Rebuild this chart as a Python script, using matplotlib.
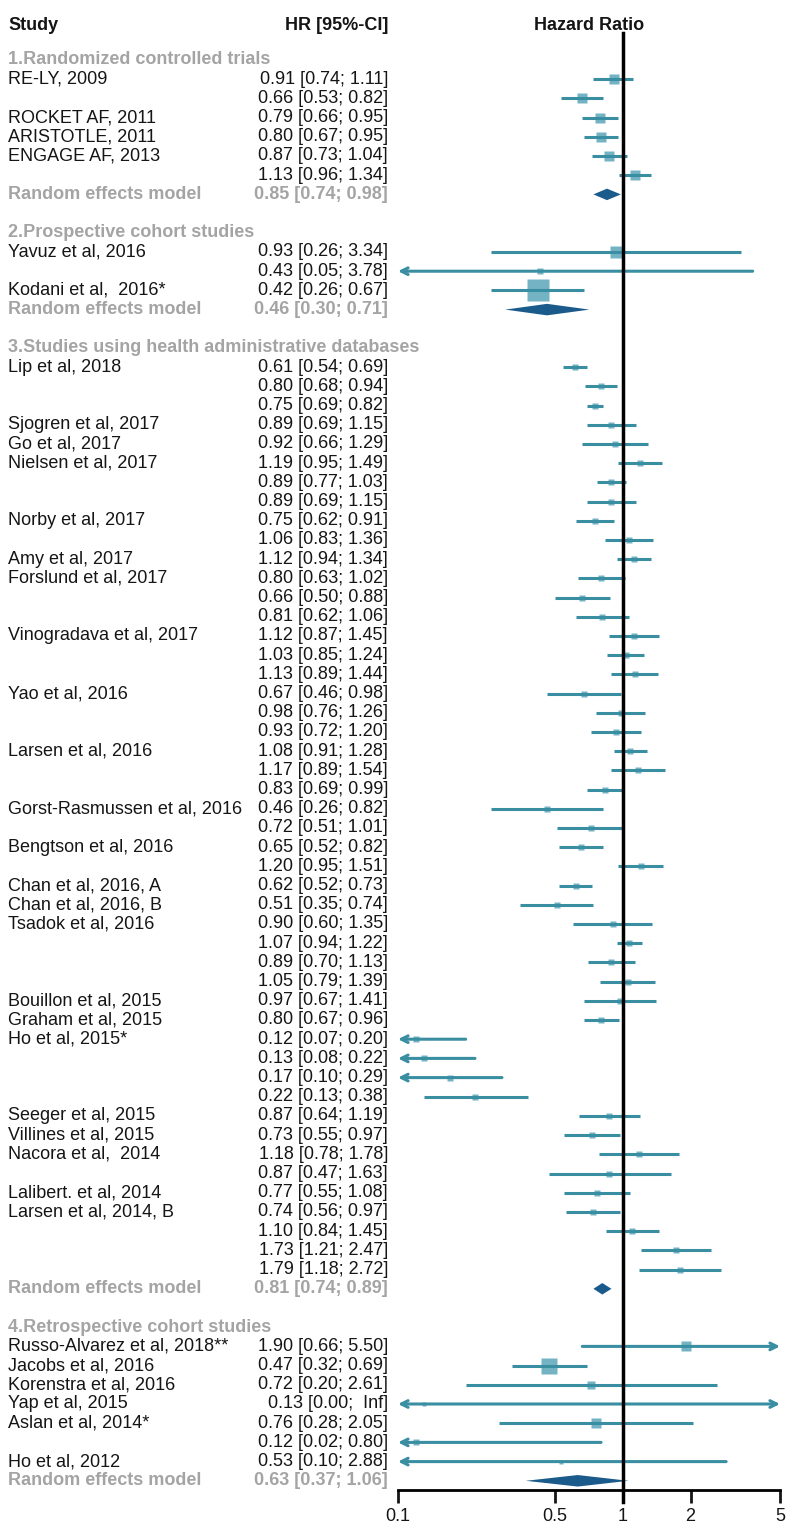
import numpy as np
import matplotlib
matplotlib.use('Agg')
import matplotlib.pyplot as plt
from matplotlib.transforms import blended_transform_factory

plt.rcParams['font.family'] = ['Liberation Sans', 'DejaVu Sans']

# ---- datos ----
s1_title = '1.Randomized controlled trials'
s1_labels = ['RE-LY, 2009', '', 'ROCKET AF, 2011', 'ARISTOTLE, 2011', 'ENGAGE AF, 2013', '']
s1_hr = [0.91, 0.66, 0.79, 0.80, 0.87, 1.13]
s1_lo = [0.74, 0.53, 0.66, 0.67, 0.73, 0.96]
s1_hi = [1.11, 0.82, 0.95, 0.95, 1.04, 1.34]
s1_w = [9, 9, 8, 8, 8, 8]
s1_re = [0.85, 0.74, 0.98]

s2_title = '2.Prospective cohort studies'
s2_labels = ['Yavuz et al, 2016', '', 'Kodani et al,  2016*']
s2_hr = [0.93, 0.43, 0.42]
s2_lo = [0.26, 0.05, 0.26]
s2_hi = [3.34, 3.78, 0.67]
s2_w = [10, 5, 18]
s2_re = [0.46, 0.30, 0.71]

s3_title = '3.Studies using health administrative databases'
s3_labels = ['Lip et al, 2018', '', '', 'Sjogren et al, 2017', 'Go et al, 2017',
             'Nielsen et al, 2017', '', '', 'Norby et al, 2017', '', 'Amy et al, 2017',
             'Forslund et al, 2017', '', '', 'Vinogradava et al, 2017', '', '',
             'Yao et al, 2016', '', '', 'Larsen et al, 2016', '', '',
             'Gorst-Rasmussen et al, 2016', '', 'Bengtson et al, 2016', '',
             'Chan et al, 2016, A', 'Chan et al, 2016, B', 'Tsadok et al, 2016', '', '', '',
             'Bouillon et al, 2015', 'Graham et al, 2015', 'Ho et al, 2015*', '', '', '',
             'Seeger et al, 2015', 'Villines et al, 2015', 'Nacora et al,  2014', '',
             'Lalibert. et al, 2014', 'Larsen et al, 2014, B', '', '', '']
s3_hr = [0.61, 0.80, 0.75, 0.89, 0.92, 1.19, 0.89, 0.89, 0.75, 1.06, 1.12,
         0.80, 0.66, 0.81, 1.12, 1.03, 1.13, 0.67, 0.98, 0.93, 1.08, 1.17, 0.83,
         0.46, 0.72, 0.65, 1.20, 0.62, 0.51, 0.90, 1.07, 0.89, 1.05, 0.97, 0.80,
         0.12, 0.13, 0.17, 0.22, 0.87, 0.73, 1.18, 0.87, 0.77, 0.74, 1.10, 1.73, 1.79]
s3_lo = [0.54, 0.68, 0.69, 0.69, 0.66, 0.95, 0.77, 0.69, 0.62, 0.83, 0.94,
         0.63, 0.50, 0.62, 0.87, 0.85, 0.89, 0.46, 0.76, 0.72, 0.91, 0.89, 0.69,
         0.26, 0.51, 0.52, 0.95, 0.52, 0.35, 0.60, 0.94, 0.70, 0.79, 0.67, 0.67,
         0.07, 0.08, 0.10, 0.13, 0.64, 0.55, 0.78, 0.47, 0.55, 0.56, 0.84, 1.21, 1.18]
s3_hi = [0.69, 0.94, 0.82, 1.15, 1.29, 1.49, 1.03, 1.15, 0.91, 1.36, 1.34,
         1.02, 0.88, 1.06, 1.45, 1.24, 1.44, 0.98, 1.26, 1.20, 1.28, 1.54, 0.99,
         0.82, 1.01, 0.82, 1.51, 0.73, 0.74, 1.35, 1.22, 1.13, 1.39, 1.41, 0.96,
         0.20, 0.22, 0.29, 0.38, 1.19, 0.97, 1.78, 1.63, 1.08, 0.97, 1.45, 2.47, 2.72]
s3_w = [5] * 48
s3_re = [0.81, 0.74, 0.89]

s4_title = '4.Retrospective cohort studies'
s4_labels = ['Russo-Alvarez et al, 2018**', 'Jacobs et al, 2016', 'Korenstra et al, 2016',
             'Yap et al, 2015', 'Aslan et al, 2014*', '', 'Ho et al, 2012']
s4_hr = [1.90, 0.47, 0.72, 0.13, 0.76, 0.12, 0.53]
s4_lo = [0.66, 0.32, 0.20, 0.00, 0.28, 0.02, 0.10]
s4_hi = [5.50, 0.69, 2.61, np.inf, 2.05, 0.80, 2.88]
s4_w = [8, 13, 7, 3, 8, 5, 4]
s4_re = [0.63, 0.37, 1.06]

secciones = [
    (s1_title, s1_labels, s1_hr, s1_lo, s1_hi, s1_w, s1_re),
    (s2_title, s2_labels, s2_hr, s2_lo, s2_hi, s2_w, s2_re),
    (s3_title, s3_labels, s3_hr, s3_lo, s3_hi, s3_w, s3_re),
    (s4_title, s4_labels, s4_hr, s4_lo, s4_hi, s4_w, s4_re),
]

# colores
c_line = '#3a8ea2'
c_box = '#5aa6b9'
c_diam = '#1b5b8c'
c_gray = '#a4a4a4'
c_txt = '#151515'

def fmt(hr, lo, hi):
    h = ' Inf' if np.isinf(hi) else '%.2f' % hi
    return '%.2f [%.2f; %s]' % (hr, lo, h)

fig = plt.figure(figsize=(7.88, 15.26), dpi=100)
ax = fig.add_axes([398 / 788, 1 - 1490 / 1526, 382 / 788, (1490 - 33) / 1526])
ax.set_xscale('log')
ax.set_xlim(0.1, 5)
row_px = 19.2
ax.set_ylim((1490 - 60) / row_px, (33 - 60) / row_px)

tr = blended_transform_factory(fig.transFigure, ax.transData)
x_study = 8 / 788
x_hr = 388 / 788
fs = 13

# encabezados
yh = (25 - 60) / row_px
ax.text(x_study, yh, 'Study', transform=tr, fontsize=fs, fontweight='bold',
        va='center', ha='left', color=c_txt, clip_on=False)
ax.text(x_hr, yh, 'HR [95%-CI]', transform=tr, fontsize=fs, fontweight='bold',
        va='center', ha='right', color=c_txt, clip_on=False)
ax.text(0.5, yh, 'Hazard Ratio', transform=blended_transform_factory(ax.transAxes, ax.transData),
        fontsize=fs, fontweight='bold', va='center', ha='center', color=c_txt, clip_on=False)

y = 0
for titulo, labels, hr, lo, hi, w, re in secciones:
    ax.text(x_study, y, titulo, transform=tr, fontsize=fs, fontweight='bold',
            color=c_gray, va='center', ha='left', clip_on=False)
    y += 1
    for i in range(len(labels)):
        ax.text(x_study, y, labels[i], transform=tr, fontsize=fs, color=c_txt,
                va='center', ha='left', clip_on=False)
        ax.text(x_hr, y, fmt(hr[i], lo[i], hi[i]), transform=tr, fontsize=fs,
                color=c_txt, va='center', ha='right', clip_on=False)
        # cuadrado
        ax.plot(hr[i], y, marker='s', ms=w[i] * 0.85, color=c_box, alpha=0.85,
                mec='none', zorder=3)
        # intervalo
        a = max(lo[i], 0.1)
        b = min(hi[i], 5)
        left_arrow = lo[i] <= 0.1
        right_arrow = hi[i] > 5
        if left_arrow and right_arrow:
            style = '<->'
        elif left_arrow:
            style = '<-'
        elif right_arrow:
            style = '->'
        else:
            style = None
        if style:
            ax.annotate('', xy=(b, y), xytext=(a, y),
                        arrowprops=dict(arrowstyle=style, color=c_line, lw=2.2,
                                        shrinkA=0, shrinkB=0, mutation_scale=12),
                        zorder=4)
        else:
            ax.plot([a, b], [y, y], color=c_line, lw=2.2, zorder=4, solid_capstyle='butt')
        y += 1
    # modelo de efectos aleatorios
    ax.text(x_study, y, 'Random effects model', transform=tr, fontsize=fs,
            fontweight='bold', color=c_gray, va='center', ha='left', clip_on=False)
    ax.text(x_hr, y, fmt(*re), transform=tr, fontsize=fs, fontweight='bold',
            color=c_gray, va='center', ha='right', clip_on=False)
    hh = 0.3
    ax.fill([re[1], re[0], re[2], re[0]], [y, y - hh, y, y + hh], color=c_diam, zorder=5, lw=0)
    y += 2

# linea de no efecto
ax.plot([1, 1], [(33 - 60) / row_px, (1502 - 60) / row_px], color='black', lw=2.5,
        zorder=6, clip_on=False)

for s in ['top', 'right', 'left']:
    ax.spines[s].set_visible(False)
ax.spines['bottom'].set_linewidth(2)
ax.set_yticks([])
ax.set_xticks([0.1, 0.5, 1, 2, 5])
ax.set_xticklabels(['0.1', '0.5', '1', '2', '5'])
ax.xaxis.set_minor_locator(matplotlib.ticker.NullLocator())
ax.tick_params(axis='x', length=9, width=2, labelsize=13, pad=4, colors=c_txt)

fig.savefig('out.png', dpi=100, facecolor='white')
